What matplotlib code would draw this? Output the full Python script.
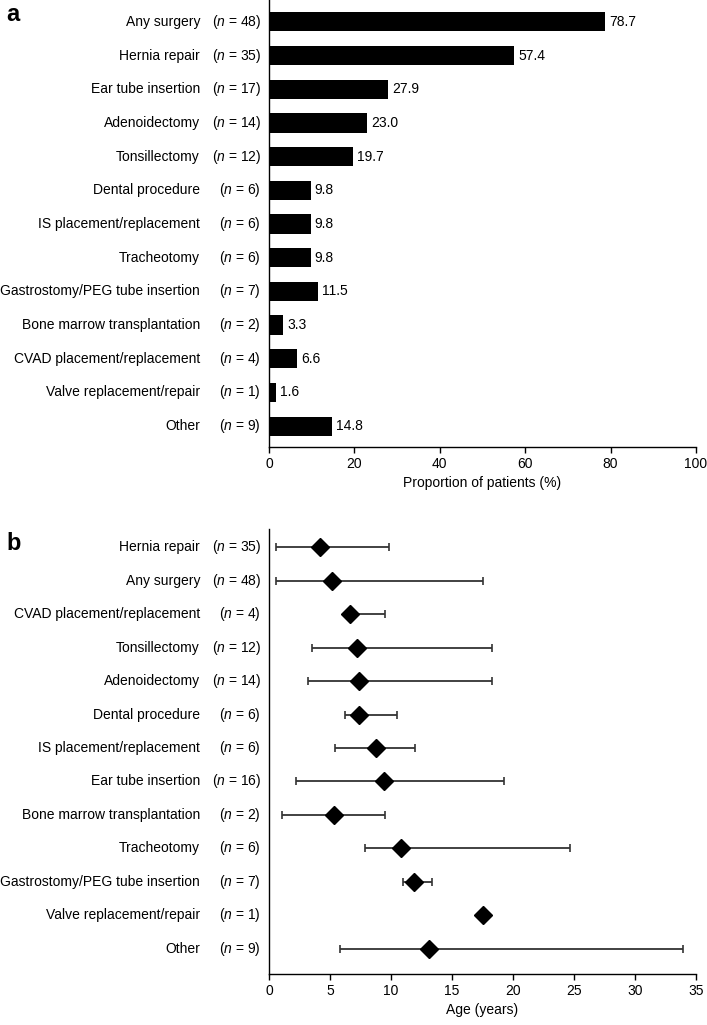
import numpy as np
import matplotlib
matplotlib.use("Agg")
import matplotlib.pyplot as plt
from matplotlib.transforms import blended_transform_factory

plt.rcParams['font.family'] = ['Liberation Sans', 'DejaVu Sans']
plt.rcParams['mathtext.fontset'] = 'custom'
plt.rcParams['mathtext.rm'] = 'Liberation Sans'
plt.rcParams['mathtext.it'] = 'Liberation Sans:italic'

# panel a: proportion of patients
cats_a = ["Any surgery", "Hernia repair", "Ear tube insertion", "Adenoidectomy",
          "Tonsillectomy", "Dental procedure", "IS placement/replacement",
          "Tracheotomy", "Gastrostomy/PEG tube insertion", "Bone marrow transplantation",
          "CVAD placement/replacement", "Valve replacement/repair", "Other"]
n_a = [48, 35, 17, 14, 12, 6, 6, 6, 7, 2, 4, 1, 9]
pct_a = [78.7, 57.4, 27.9, 23.0, 19.7, 9.8, 9.8, 9.8, 11.5, 3.3, 6.6, 1.6, 14.8]

# panel b: age at surgery (median, range)
cats_b = ["Hernia repair", "Any surgery", "CVAD placement/replacement", "Tonsillectomy",
          "Adenoidectomy", "Dental procedure", "IS placement/replacement",
          "Ear tube insertion", "Bone marrow transplantation", "Tracheotomy",
          "Gastrostomy/PEG tube insertion", "Valve replacement/repair", "Other"]
n_b = [35, 48, 4, 12, 14, 6, 6, 16, 2, 6, 7, 1, 9]
age_med = [4.2, 5.2, 6.6, 7.2, 7.4, 7.4, 8.8, 9.4, 5.3, 10.8, 11.9, 17.5, 13.1]
age_min = [0.55, 0.55, 6.3, 3.5, 3.2, 6.2, 5.4, 2.2, 1.1, 7.9, 11.0, 17.5, 5.8]
age_max = [9.8, 17.5, 9.5, 18.3, 18.3, 10.5, 12.0, 19.3, 9.5, 24.7, 13.4, 17.5, 33.9]

W, H = 707, 1025
fig = plt.figure(figsize=(W / 100, H / 100), dpi=100)
axL, axR = 269 / W, 696 / W
ax1 = fig.add_axes([axL, 1 - 447 / H, axR - axL, 447 / H])
ax2 = fig.add_axes([axL, 1 - 974 / H, axR - axL, (974 - 529) / H])

FS = 10


def style(ax):
    ax.spines['top'].set_visible(False)
    ax.spines['right'].set_visible(False)
    ax.spines['left'].set_linewidth(1.0)
    ax.spines['bottom'].set_linewidth(1.0)
    ax.tick_params(axis='y', left=False, labelleft=False)
    ax.tick_params(axis='x', direction='out', length=4, width=1, labelsize=FS, pad=3)


def row_labels(ax, cats, ns):
    tr = blended_transform_factory(fig.transFigure, ax.transData)
    for i, (c, n) in enumerate(zip(cats, ns)):
        ax.text(200 / W, i, c, transform=tr, ha='right', va='center', fontsize=FS)
        ax.text(261 / W, i, r"($\mathit{n}$ = %d)" % n, transform=tr, ha='right',
                va='center', fontsize=FS)


# panel a
y = np.arange(len(cats_a))
ax1.barh(y, pct_a, height=0.57, color='black')
for i, v in enumerate(pct_a):
    ax1.text(v + 0.9, i, "%.1f" % v, va='center', ha='left', fontsize=FS)
ax1.set_xlim(0, 100)
ax1.set_ylim(12.62, -0.65)
ax1.set_xticks(np.arange(0, 101, 20))
ax1.set_xlabel("Proportion of patients (%)", fontsize=FS, labelpad=4)
style(ax1)
row_labels(ax1, cats_a, n_a)

# panel b
yb = np.arange(len(cats_b))
med = np.array(age_med)
err = np.vstack([med - np.array(age_min), np.array(age_max) - med])
ax2.errorbar(med, yb, xerr=err, fmt='none', ecolor='#333333', elinewidth=1.3,
             capsize=3, capthick=1.2)
ax2.plot(med, yb, 'D', color='black', markersize=9, zorder=3)
ax2.set_xlim(0, 35)
ax2.set_ylim(12.75, -0.54)
ax2.set_xticks(np.arange(0, 36, 5))
ax2.set_xlabel("Age (years)", fontsize=FS, labelpad=4)
style(ax2)
row_labels(ax2, cats_b, n_b)

fig.text(6 / W, 1 - 3 / H, "a", fontsize=17, fontweight='bold', va='top', ha='left')
fig.text(6 / W, 1 - 532 / H, "b", fontsize=17, fontweight='bold', va='top', ha='left')

fig.savefig("out.png", dpi=100)
